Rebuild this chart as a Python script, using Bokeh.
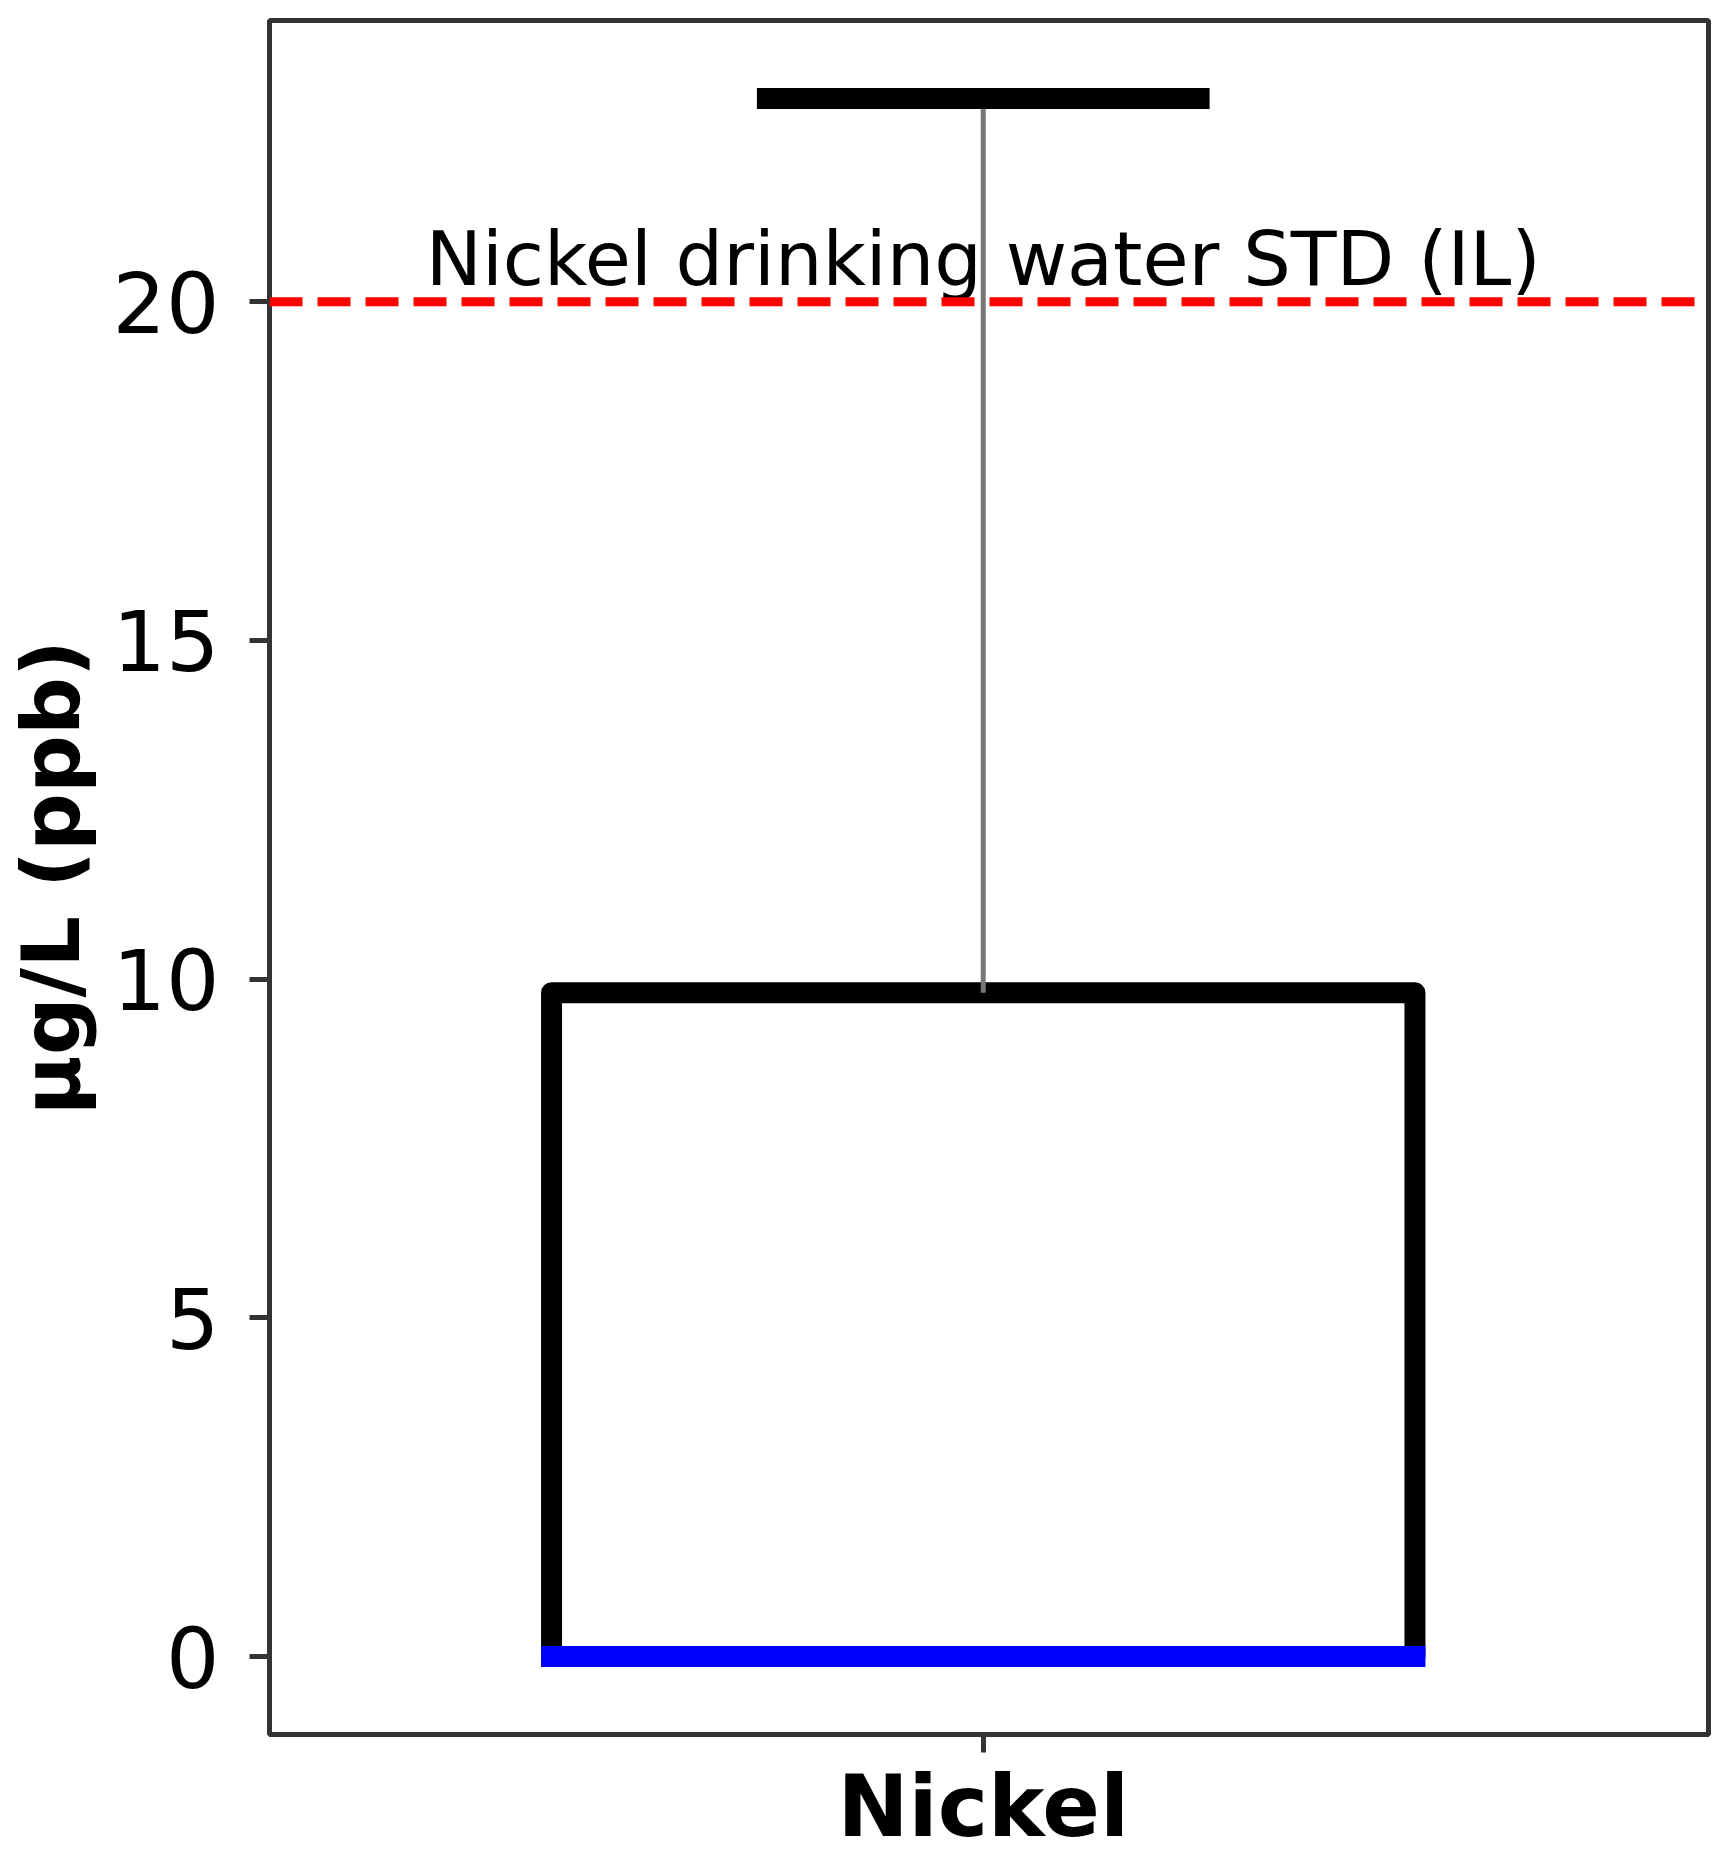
from bokeh.plotting import figure
from bokeh.models import Range1d, FixedTicker, Span
from bokeh.core.properties import value
from bokeh.embed import file_html
from bokeh.resources import INLINE

# ---- data ----
categories = ["Nickel"]
box_min = [0.0]
box_q1 = [0.0]
box_median = [0.0]
box_q3 = [9.8]
box_max = [23.0]
standard_value = 20.0
standard_label = "Nickel drinking water STD (IL)"
y_ticks = [0, 5, 10, 15, 20]
y_label = "µg/L (ppb)"

FONT = "DejaVu Sans"
positions = [i + 1 for i in range(len(categories))]

p = figure(width=1719, height=1858, output_backend="svg", toolbar_location=None,
           x_range=Range1d(0.504, len(categories) + 0.504), y_range=Range1d(-1.15, 24.15))
p.min_border_left = 262
p.min_border_top = 20
p.min_border_right = 11
p.min_border_bottom = 100
p.xgrid.visible = False
p.ygrid.visible = False
p.background_fill_color = "white"
p.border_fill_color = "white"
p.outline_line_color = "#333333"
p.outline_line_width = 5

hw = 0.3   # box half-width
cw = 0.15  # cap half-width

# box
p.quad(left=[x - hw for x in positions], right=[x + hw for x in positions],
       bottom=box_q1, top=box_q3, fill_color=None, line_color="black",
       line_width=21, line_join="round")
# whiskers
p.segment(x0=positions, y0=box_q3, x1=positions, y1=box_max, line_color="#777777", line_width=5)
p.segment(x0=positions, y0=box_q1, x1=positions, y1=box_min, line_color="#777777", line_width=5)
# caps
p.segment(x0=[x - cw for x in positions], y0=box_max, x1=[x + cw for x in positions], y1=box_max,
          line_color="black", line_width=21, line_cap="square")
p.segment(x0=[x - cw for x in positions], y0=box_min, x1=[x + cw for x in positions], y1=box_min,
          line_color="black", line_width=21, line_cap="square")
# median
p.segment(x0=[x - hw for x in positions], y0=box_median, x1=[x + hw for x in positions], y1=box_median,
          line_color="blue", line_width=21, line_cap="square")

# standard line
p.add_layout(Span(location=standard_value, dimension="width", line_color="red",
                  line_width=9, line_dash="33 15"))
p.text(x=[(positions[0] + positions[-1]) / 2], y=[standard_value + 0.63], text=[standard_label],
       text_align="center", text_baseline="alphabetic", text_color="black",
       text_font=value(FONT), text_font_size="75px")

# axes
p.yaxis.ticker = FixedTicker(ticks=y_ticks)
p.yaxis.minor_tick_line_color = None
p.yaxis.major_tick_out = 20
p.yaxis.major_tick_in = 0
p.yaxis.major_tick_line_width = 5
p.yaxis.major_tick_line_color = "#333333"
p.yaxis.axis_line_width = 5
p.yaxis.axis_line_color = "#333333"
p.yaxis.major_label_text_font = FONT
p.yaxis.major_label_text_font_size = "84px"
p.yaxis.major_label_text_color = "black"
p.yaxis.major_label_standoff = 30
p.yaxis.axis_label = y_label
p.yaxis.axis_label_text_font = FONT
p.yaxis.axis_label_text_font_size = "81px"
p.yaxis.axis_label_text_font_style = "bold"
p.yaxis.axis_label_text_color = "black"
p.yaxis.axis_label_standoff = 12

p.xaxis.ticker = FixedTicker(ticks=positions)
p.xaxis.major_label_overrides = {x: c for x, c in zip(positions, categories)}
p.xaxis.minor_tick_line_color = None
p.xaxis.major_tick_out = 18
p.xaxis.major_tick_in = 0
p.xaxis.major_tick_line_width = 5
p.xaxis.major_tick_line_color = "#333333"
p.xaxis.axis_line_width = 5
p.xaxis.axis_line_color = "#333333"
p.xaxis.major_label_text_font = FONT
p.xaxis.major_label_text_font_size = "85px"
p.xaxis.major_label_text_font_style = "bold"
p.xaxis.major_label_text_color = "black"
p.xaxis.major_label_standoff = 4

open("out.html", "w").write(file_html(p, INLINE))
